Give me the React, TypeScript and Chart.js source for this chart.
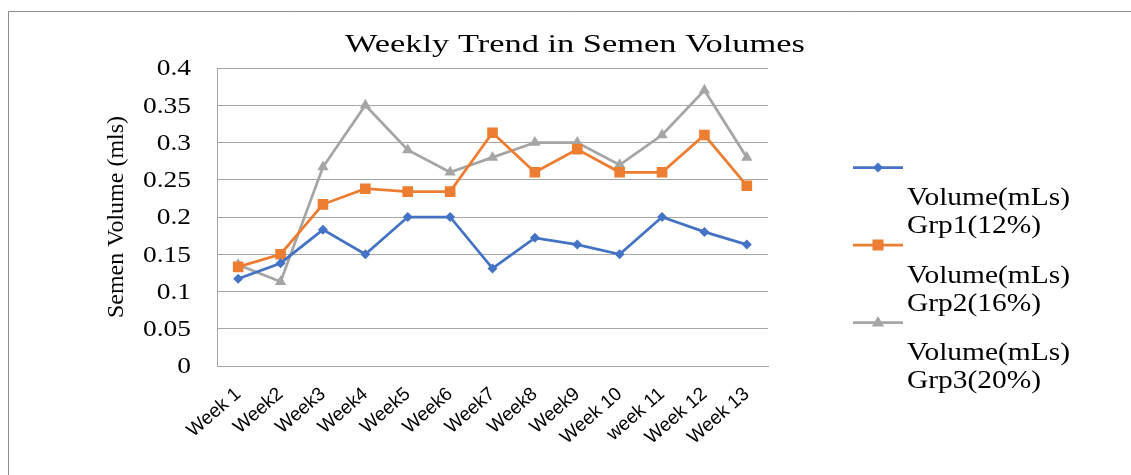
import React, { useEffect, useRef } from 'react';
import { Chart, registerables } from 'chart.js';

Chart.register(...registerables);

const weeks = ['Week 1', 'Week2', 'Week3', 'Week4', 'Week5', 'Week6', 'Week7', 'Week8', 'Week9', 'Week 10', 'week 11', 'Week 12', 'Week 13'];
const grp1 = [0.117, 0.138, 0.183, 0.15, 0.2, 0.2, 0.131, 0.172, 0.163, 0.15, 0.2, 0.18, 0.163];
const grp2 = [0.133, 0.15, 0.217, 0.238, 0.234, 0.234, 0.313, 0.26, 0.291, 0.26, 0.26, 0.31, 0.242];
const grp3 = [0.136, 0.113, 0.267, 0.35, 0.29, 0.26, 0.28, 0.3, 0.3, 0.27, 0.31, 0.37, 0.28];
const seriesLabels = ['Volume(mLs) Grp1(12%)', 'Volume(mLs) Grp2(16%)', 'Volume(mLs) Grp3(20%)'];
const seriesColors = ['#4472C4', '#ED7D31', '#A5A5A5'];
const yTickLabels = ['0', '0.05', '0.1', '0.15', '0.2', '0.25', '0.3', '0.35', '0.4'];
const chartTitle = 'Weekly Trend in Semen Volumes';
const yAxisTitle = 'Semen Volume (mls)';

const SERIF = '"Liberation Serif", "Times New Roman", serif';
const SANS = '"Liberation Sans", Arial, sans-serif';

function drawMarker(ctx: CanvasRenderingContext2D, kind: number, x: number, y: number, color: string) {
  ctx.fillStyle = color;
  ctx.beginPath();
  if (kind === 0) {
    const r = 5;
    ctx.moveTo(x, y - r);
    ctx.lineTo(x + r, y);
    ctx.lineTo(x, y + r);
    ctx.lineTo(x - r, y);
  } else if (kind === 1) {
    const s = 5.5;
    ctx.rect(x - s, y - s, 2 * s, 2 * s);
  } else {
    const r = 6.5;
    ctx.moveTo(x, y - r);
    ctx.lineTo(x + r * 0.95, y + r * 0.6);
    ctx.lineTo(x - r * 0.95, y + r * 0.6);
  }
  ctx.closePath();
  ctx.fill();
}

const decorPlugin = {
  id: 'decor',
  beforeDraw(chart: any) {
    const ctx: CanvasRenderingContext2D = chart.ctx;
    ctx.save();
    ctx.strokeStyle = '#8c8c8c';
    ctx.lineWidth = 1;
    ctx.beginPath();
    ctx.moveTo(8.5, chart.height);
    ctx.lineTo(8.5, 11.5);
    ctx.lineTo(chart.width, 11.5);
    ctx.stroke();
    ctx.restore();
  },
  afterDraw(chart: any) {
    const ctx: CanvasRenderingContext2D = chart.ctx;
    ctx.save();
    // y tick labels, horizontally widened like the reference
    const yScale = chart.scales.y;
    ctx.fillStyle = '#000';
    ctx.font = `24px ${SERIF}`;
    ctx.textBaseline = 'middle';
    ctx.textAlign = 'right';
    const sxTick = 48 / ctx.measureText('0.35').width;
    yScale.ticks.forEach((t: any, idx: number) => {
      const py = yScale.getPixelForValue(t.value);
      ctx.save();
      ctx.translate(191, py + 1);
      ctx.scale(sxTick, 1);
      ctx.fillText(yTickLabels[idx], 0, 0);
      ctx.restore();
    });

    // title
    ctx.font = `25px ${SERIF}`;
    ctx.textBaseline = 'alphabetic';
    ctx.textAlign = 'left';
    const tw = ctx.measureText(chartTitle).width;
    const targetW = 460;
    ctx.save();
    ctx.translate(575 - targetW / 2, 52);
    ctx.scale(targetW / tw, 1);
    ctx.fillText(chartTitle, 0, 0);
    ctx.restore();

    // legend
    ctx.font = `26px ${SERIF}`;
    const refW = ctx.measureText('Volume(mLs)').width;
    const sx = 163 / refW;
    chart.data.datasets.forEach((ds: any, i: number) => {
      const ly = 167.5 + i * 77.5;
      ctx.strokeStyle = ds.borderColor;
      ctx.lineWidth = 2.75;
      ctx.beginPath();
      ctx.moveTo(853, ly);
      ctx.lineTo(903, ly);
      ctx.stroke();
      drawMarker(ctx, i, 878, ly, ds.borderColor);
      const parts = String(ds.label).split(' ');
      ctx.fillStyle = '#000';
      parts.forEach((p: string, j: number) => {
        ctx.save();
        ctx.translate(907, ly + 37.5 + j * 28);
        ctx.scale(sx, 1);
        ctx.fillText(p, 0, 0);
        ctx.restore();
      });
    });
    ctx.restore();
  },
};

export default function App() {
  const ref = useRef<HTMLCanvasElement | null>(null);
  useEffect(() => {
    if (!ref.current) return;
    const styles = ['rectRot', 'rect', 'triangle'];
    const radii = [5, 7.5, 6.5];
    const chart = new Chart(ref.current, {
      type: 'line',
      data: {
        labels: weeks,
        datasets: [grp1, grp2, grp3].map((d, i) => ({
          label: seriesLabels[i],
          data: d,
          borderColor: seriesColors[i],
          backgroundColor: seriesColors[i],
          pointBackgroundColor: seriesColors[i],
          pointBorderColor: seriesColors[i],
          pointStyle: styles[i],
          pointRadius: radii[i],
          pointBorderWidth: 0,
          borderWidth: 2.75,
          tension: 0,
          fill: false,
        })),
      },
      options: {
        responsive: false,
        animation: false,
        layout: { padding: { left: 0, top: 68, right: 363, bottom: 0 } },
        plugins: {
          legend: { display: false },
          title: { display: false },
          tooltip: { enabled: false },
        },
        scales: {
          x: {
            offset: true,
            grid: { display: false, drawTicks: false },
            border: { display: true, color: '#a6a6a6', width: 1 },
            ticks: {
              minRotation: 41,
              maxRotation: 41,
              autoSkip: false,
              padding: 17,
              color: '#000',
              font: { family: SANS, size: 19 },
            },
            afterFit: (s: any) => { s.height = 109; },
          },
          y: {
            min: 0,
            max: 0.4,
            grid: { color: '#a6a6a6', lineWidth: 1, drawTicks: false },
            border: { display: true, color: '#a6a6a6', width: 1 },
            ticks: {
              stepSize: 0.05,
              padding: 27,
              color: 'rgba(0,0,0,0)',
              font: { family: SERIF, size: 24 },
              callback: (_v: any, idx: number) => yTickLabels[idx],
            },
            title: {
              display: true,
              text: yAxisTitle,
              color: '#000',
              font: { family: SERIF, size: 24 },
              padding: { top: 102, bottom: 0 },
            },
            afterFit: (s: any) => { s.width = 217; },
          },
        },
      },
      plugins: [decorPlugin],
    });
    return () => chart.destroy();
  }, []);
  return (
    <div style={{ position: 'fixed', left: 0, top: 0, width: 1131, height: 475, background: '#fff' }}>
      <canvas ref={ref} width={1131} height={475} style={{ display: 'block', width: 1131, height: 475 }} />
    </div>
  );
}
